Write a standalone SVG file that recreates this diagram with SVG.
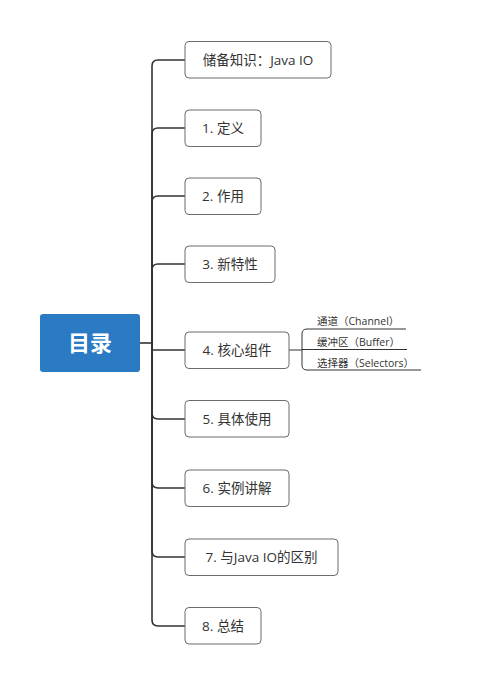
<svg xmlns="http://www.w3.org/2000/svg" width="496" height="681" viewBox="0 0 496 681">
<style>
.box{fill:#fff;stroke:#6b6b6b;stroke-width:1}
.t{font-family:"Open Sans","Noto Sans CJK SC",sans-serif;font-size:13.5px;fill:#333;text-anchor:middle}
.s{font-family:"Open Sans","Noto Sans CJK SC",sans-serif;font-size:10.5px;fill:#333}
.c{fill:none;stroke:#333;stroke-width:1.6}
.cs{fill:none;stroke:#333;stroke-width:1}
</style>
<rect width="496" height="681" fill="#fff"/>
<g id="connectors">
<path class="c" d="M140 343 H152"/>
<path class="c" d="M152 343 V66 Q152 60 158 60 H185"/>
<path class="c" d="M152 343 V134 Q152 128 158 128 H185"/>
<path class="c" d="M152 343 V202 Q152 196 158 196 H185"/>
<path class="c" d="M152 343 V270 Q152 264 158 264 H185"/>
<path class="c" d="M152 343 V350 H185"/>
<path class="c" d="M152 343 V413 Q152 419 158 419 H185"/>
<path class="c" d="M152 343 V482 Q152 488 158 488 H185"/>
<path class="c" d="M152 343 V551 Q152 557 158 557 H185"/>
<path class="c" d="M152 343 V620 Q152 626 158 626 H185"/>
<path class="cs" d="M289 350 H302 V334 Q302 329 307 329 H406"/>
<path class="cs" d="M302 349.5 H407"/>
<path class="cs" d="M302 350 V365 Q302 370 307 370 H421"/>
</g>
<g id="root">
<rect x="40" y="314" width="100" height="58" rx="3" fill="#2b7bc4"/>
<text x="90" y="351" font-family="'Noto Sans CJK SC',sans-serif" font-size="22" font-weight="bold" fill="#fff" text-anchor="middle">目录</text>
</g>
<g id="n0"><rect class="box" x="185" y="41.5" width="146" height="36.5" rx="4"/><text class="t" x="258" y="64.5">储备知识：Java IO</text></g>
<g id="n1"><rect class="box" x="185" y="110" width="76" height="36.5" rx="4"/><text class="t" x="223" y="133">1. 定义</text></g>
<g id="n2"><rect class="box" x="185" y="178" width="76" height="36.5" rx="4"/><text class="t" x="223" y="201">2. 作用</text></g>
<g id="n3"><rect class="box" x="185" y="246" width="90" height="36.5" rx="4"/><text class="t" x="230" y="269">3. 新特性</text></g>
<g id="n4"><rect class="box" x="185" y="332" width="104" height="36.5" rx="4"/><text class="t" x="237" y="355">4. 核心组件</text></g>
<g id="n4a"><text class="s" x="317" y="325">通道（Channel）</text></g>
<g id="n4b"><text class="s" x="317" y="346">缓冲区（Buffer）</text></g>
<g id="n4c"><text class="s" x="317" y="367">选择器（Selectors）</text></g>
<g id="n5"><rect class="box" x="185" y="400.5" width="104" height="36.5" rx="4"/><text class="t" x="237" y="423.5">5. 具体使用</text></g>
<g id="n6"><rect class="box" x="185" y="470" width="104" height="36.5" rx="4"/><text class="t" x="237" y="493">6. 实例讲解</text></g>
<g id="n7"><rect class="box" x="185" y="539" width="153" height="36.5" rx="4"/><text class="t" x="261.5" y="562">7. 与Java IO的区别</text></g>
<g id="n8"><rect class="box" x="185" y="607.5" width="76" height="36.5" rx="4"/><text class="t" x="223" y="630.5">8. 总结</text></g>
</svg>
